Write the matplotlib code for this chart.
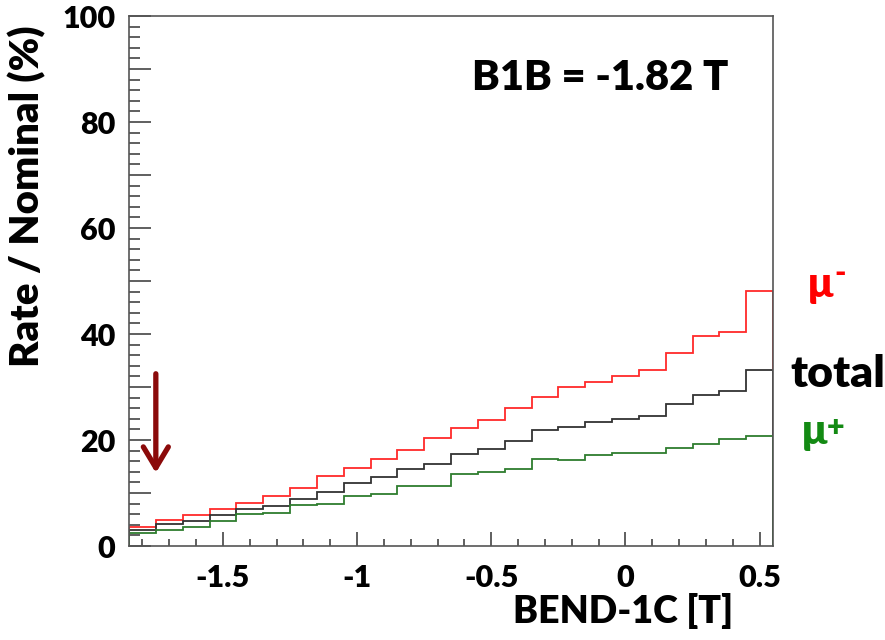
import numpy as np
import matplotlib
matplotlib.use('Agg')
import matplotlib.pyplot as plt
from matplotlib.ticker import MultipleLocator, FuncFormatter

plt.rcParams['font.family'] = ['Lato', 'DejaVu Sans']
plt.rcParams['font.weight'] = 'heavy'

# bin edges of the scan over BEND-1C field (T)
bin_edges = np.round(np.arange(-1.85, 0.56, 0.1), 2)

# rate / nominal (%) per bin
mu_minus = [3.6, 4.9, 5.8, 7.0, 8.2, 9.4, 10.9, 13.3, 14.8, 16.5, 18.1, 20.4,
            22.2, 23.7, 26.0, 28.2, 30.0, 31.0, 32.1, 33.3, 36.5, 39.6, 40.4, 48.1]
total = [3.0, 4.1, 4.7, 5.8, 7.0, 7.5, 8.9, 10.2, 11.9, 13.0, 14.5, 15.5,
         17.4, 18.3, 19.8, 21.8, 22.5, 23.4, 24.0, 24.6, 26.7, 28.4, 29.3, 33.2]
mu_plus = [2.5, 3.0, 3.6, 4.8, 6.0, 6.3, 7.7, 7.9, 9.4, 9.9, 11.4, 11.4,
           13.6, 14.0, 14.5, 16.4, 16.2, 17.2, 17.5, 17.5, 18.4, 19.2, 20.2, 20.8]

# nominal B1B setting marked by the arrow
arrow_x = -1.75
arrow_top = 32.5
arrow_tip = 13.8

W, H = 885, 640
WT = 'heavy'


def fx(px):
	return px / W


def fy(py):
	return 1 - py / H


fig = plt.figure(figsize=(W / 100, H / 100), dpi=100)
ax = fig.add_axes([fx(129), fy(546), fx(773) - fx(129), fy(16) - fy(546)])

ax.stairs(mu_minus, bin_edges, color='#ff2a2a', lw=1.3)
ax.stairs(total, bin_edges, color='#333333', lw=1.3)
ax.stairs(mu_plus, bin_edges, color='#2e7d2e', lw=1.3)

ax.set_xlim(-1.85, 0.55)
ax.set_ylim(0, 100)

# y: long ticks every 10, labels every 20, short ticks every 2
ax.yaxis.set_major_locator(MultipleLocator(10))
ax.yaxis.set_minor_locator(MultipleLocator(2))
ax.yaxis.set_major_formatter(FuncFormatter(
	lambda v, p: '%d' % v if int(round(v)) % 20 == 0 else ''))
ax.xaxis.set_major_locator(MultipleLocator(0.5))
ax.xaxis.set_minor_locator(MultipleLocator(0.1))
ax.xaxis.set_major_formatter(FuncFormatter(
	lambda v, p: '0' if abs(v) < 1e-9 else ('%g' % v)))

ax.tick_params(axis='y', which='major', direction='in', length=16, width=1.2,
               color='#444444', labelsize=22, pad=10)
ax.tick_params(axis='y', which='minor', direction='in', length=8, width=1.2,
               color='#444444')
ax.tick_params(axis='x', which='major', direction='in', length=10, width=1.2,
               color='#444444', labelsize=22, pad=13)
ax.tick_params(axis='x', which='minor', direction='in', length=5, width=1.2,
               color='#444444')
for lab in ax.get_xticklabels() + ax.get_yticklabels():
	lab.set_fontweight(WT)
for sp in ax.spines.values():
	sp.set_color('#555555')
	sp.set_linewidth(1.2)

ax.annotate('', xy=(arrow_x, arrow_tip), xytext=(arrow_x, arrow_top),
            arrowprops=dict(arrowstyle='->, head_length=1.0, head_width=0.6',
                            mutation_scale=15, color='#8b0a0a', lw=3.8,
                            shrinkA=0, shrinkB=0))

# labels placed as on the slide
fig.text(fx(472), fy(90), 'B1B = -1.82 T', fontsize=30, fontweight=WT,
         ha='left', va='baseline')
fig.text(fx(513), fy(623), 'BEND-1C [T]', fontsize=27, fontweight=WT,
         ha='left', va='baseline')
fig.text(fx(39), fy(196), 'Rate / Nominal (%)', fontsize=29, fontweight=WT,
         rotation=90, rotation_mode='anchor', ha='center', va='baseline')

fig.text(fx(790), fy(387), 'total', fontsize=32, fontweight=WT,
         ha='left', va='baseline', color='black')
fig.text(fx(808), fy(297), '\u03bc', fontsize=30, fontweight=WT,
         ha='left', va='baseline', color='#ff0000')
fig.text(fx(834), fy(282), '-', fontsize=22, fontweight=WT,
         ha='left', va='baseline', color='#ff0000')
fig.text(fx(802), fy(444), '\u03bc', fontsize=30, fontweight=WT,
         ha='left', va='baseline', color='#138a13')
fig.text(fx(827), fy(436), '+', fontsize=22, fontweight=WT,
         ha='left', va='baseline', color='#138a13')

fig.savefig('out.png', dpi=100)
